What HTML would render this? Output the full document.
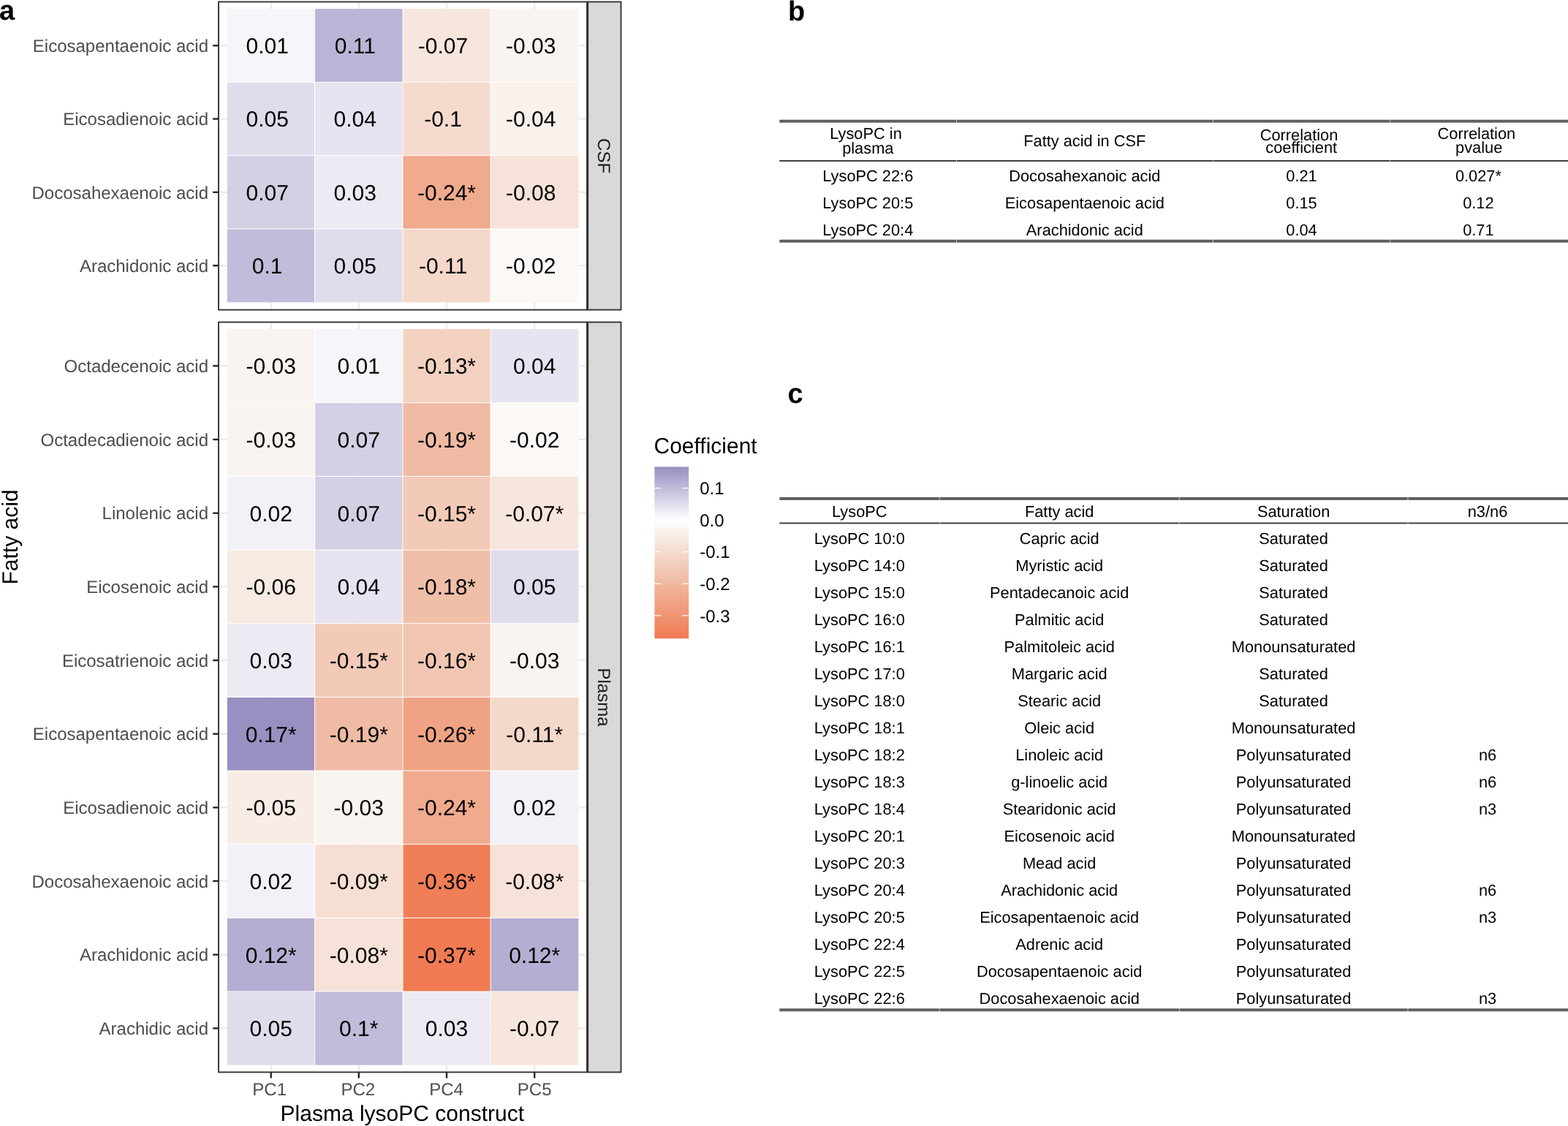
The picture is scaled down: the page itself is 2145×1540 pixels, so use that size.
<!DOCTYPE html>
<html><head><meta charset="utf-8"><title>Figure</title>
<style>html,body{margin:0;padding:0;background:#fff;width:2145px;height:1540px;overflow:hidden}svg{display:block}</style>
</head><body>
<svg width="2145" height="1540" viewBox="0 0 2145 1540" font-family="Liberation Sans, Arial, Helvetica, sans-serif" text-rendering="geometricPrecision">
<rect width="2145" height="1540" fill="#FFFFFF"/>
<g stroke="#EBEBEB" stroke-width="2.4"><line x1="370.7" y1="2.5" x2="370.7" y2="423.7" /><line x1="490.8" y1="2.5" x2="490.8" y2="423.7" /><line x1="611.0" y1="2.5" x2="611.0" y2="423.7" /><line x1="731.2" y1="2.5" x2="731.2" y2="423.7" /><line x1="299" y1="62.3" x2="803" y2="62.3" /><line x1="299" y1="162.6" x2="803" y2="162.6" /><line x1="299" y1="262.9" x2="803" y2="262.9" /><line x1="299" y1="363.2" x2="803" y2="363.2" /></g>
<g><rect x="310.8" y="12.10" width="119.80" height="100.32" fill="#F6F5F9"/><rect x="430.6" y="12.10" width="120.40" height="100.32" fill="#BCB4D6"/><rect x="551.0" y="12.10" width="120.10" height="100.32" fill="#F7E6DD"/><rect x="671.1" y="12.10" width="120.30" height="100.32" fill="#FAF4F0"/><rect x="310.8" y="112.42" width="119.80" height="100.32" fill="#E0DCEC"/><rect x="430.6" y="112.42" width="120.40" height="100.32" fill="#E7E3F0"/><rect x="551.0" y="112.42" width="120.10" height="100.32" fill="#F5DBCE"/><rect x="671.1" y="112.42" width="120.30" height="100.32" fill="#F9F1EB"/><rect x="310.8" y="212.75" width="119.80" height="100.32" fill="#D4CFE5"/><rect x="430.6" y="212.75" width="120.40" height="100.32" fill="#EDEAF4"/><rect x="551.0" y="212.75" width="120.10" height="100.32" fill="#F0AA8D"/><rect x="671.1" y="212.75" width="120.30" height="100.32" fill="#F6E2D8"/><rect x="310.8" y="313.07" width="119.80" height="100.32" fill="#C2BBDA"/><rect x="430.6" y="313.07" width="120.40" height="100.32" fill="#E0DCEC"/><rect x="551.0" y="313.07" width="120.10" height="100.32" fill="#F4D8CA"/><rect x="671.1" y="313.07" width="120.30" height="100.32" fill="#FBF8F5"/></g>
<g stroke="#FFFFFF" stroke-width="1"><line x1="430.6" y1="12.1" x2="430.6" y2="413.4"/><line x1="551.0" y1="12.1" x2="551.0" y2="413.4"/><line x1="671.1" y1="12.1" x2="671.1" y2="413.4"/><line x1="310.8" y1="112.42" x2="791.4" y2="112.42"/><line x1="310.8" y1="212.75" x2="791.4" y2="212.75"/><line x1="310.8" y1="313.07" x2="791.4" y2="313.07"/></g>
<g font-size="30" text-anchor="middle" fill="#000000"><text x="365.7" y="73.1">0.01</text><text x="485.8" y="73.1">0.11</text><text x="606.0" y="73.1">-0.07</text><text x="726.2" y="73.1">-0.03</text><text x="365.7" y="173.4">0.05</text><text x="485.8" y="173.4">0.04</text><text x="606.0" y="173.4">-0.1</text><text x="726.2" y="173.4">-0.04</text><text x="365.7" y="273.7">0.07</text><text x="485.8" y="273.7">0.03</text><text x="611.0" y="273.7">-0.24*</text><text x="726.2" y="273.7">-0.08</text><text x="365.7" y="374.0">0.1</text><text x="485.8" y="374.0">0.05</text><text x="606.0" y="374.0">-0.11</text><text x="726.2" y="374.0">-0.02</text></g>
<g font-size="24" text-anchor="end" fill="#4D4D4D"><text x="285" y="70.9">Eicosapentaenoic acid</text><text x="285" y="171.2">Eicosadienoic acid</text><text x="285" y="271.5">Docosahexaenoic acid</text><text x="285" y="371.8">Arachidonic acid</text></g>
<g stroke="#262626" stroke-width="2.4"><line x1="291.2" y1="62.3" x2="299" y2="62.3"/><line x1="291.2" y1="162.6" x2="299" y2="162.6"/><line x1="291.2" y1="262.9" x2="299" y2="262.9"/><line x1="291.2" y1="363.2" x2="299" y2="363.2"/></g>
<rect x="804.2" y="2.5" width="45.3" height="421.2" fill="#D9D9D9" stroke="#333333" stroke-width="1.9"/>
<rect x="299" y="2.5" width="504.0" height="421.2" fill="none" stroke="#333333" stroke-width="1.9"/>
<text transform="translate(818.2,213.1) rotate(90)" font-size="24" text-anchor="middle" fill="#1A1A1A">CSF</text>
<g stroke="#EBEBEB" stroke-width="2.4"><line x1="370.7" y1="440.6" x2="370.7" y2="1466.4" /><line x1="490.8" y1="440.6" x2="490.8" y2="1466.4" /><line x1="611.0" y1="440.6" x2="611.0" y2="1466.4" /><line x1="731.2" y1="440.6" x2="731.2" y2="1466.4" /><line x1="299" y1="500.4" x2="803" y2="500.4" /><line x1="299" y1="601.1" x2="803" y2="601.1" /><line x1="299" y1="701.8" x2="803" y2="701.8" /><line x1="299" y1="802.4" x2="803" y2="802.4" /><line x1="299" y1="903.1" x2="803" y2="903.1" /><line x1="299" y1="1003.7" x2="803" y2="1003.7" /><line x1="299" y1="1104.4" x2="803" y2="1104.4" /><line x1="299" y1="1205.0" x2="803" y2="1205.0" /><line x1="299" y1="1305.7" x2="803" y2="1305.7" /><line x1="299" y1="1406.4" x2="803" y2="1406.4" /></g>
<g><rect x="310.8" y="450.10" width="119.80" height="100.66" fill="#FAF4F0"/><rect x="430.6" y="450.10" width="120.40" height="100.66" fill="#F6F5F9"/><rect x="551.0" y="450.10" width="120.10" height="100.66" fill="#F3D1C0"/><rect x="671.1" y="450.10" width="120.30" height="100.66" fill="#E7E3F0"/><rect x="310.8" y="550.76" width="119.80" height="100.66" fill="#FAF4F0"/><rect x="430.6" y="550.76" width="120.40" height="100.66" fill="#D4CFE5"/><rect x="551.0" y="550.76" width="120.10" height="100.66" fill="#F0BBA4"/><rect x="671.1" y="550.76" width="120.30" height="100.66" fill="#FBF8F5"/><rect x="310.8" y="651.42" width="119.80" height="100.66" fill="#F3F1F8"/><rect x="430.6" y="651.42" width="120.40" height="100.66" fill="#D4CFE5"/><rect x="551.0" y="651.42" width="120.10" height="100.66" fill="#F2CAB7"/><rect x="671.1" y="651.42" width="120.30" height="100.66" fill="#F7E6DD"/><rect x="310.8" y="752.08" width="119.80" height="100.66" fill="#F7EAE2"/><rect x="430.6" y="752.08" width="120.40" height="100.66" fill="#E7E3F0"/><rect x="551.0" y="752.08" width="120.10" height="100.66" fill="#F0BFA8"/><rect x="671.1" y="752.08" width="120.30" height="100.66" fill="#E0DCEC"/><rect x="310.8" y="852.74" width="119.80" height="100.66" fill="#EDEAF4"/><rect x="430.6" y="852.74" width="120.40" height="100.66" fill="#F2CAB7"/><rect x="551.0" y="852.74" width="120.10" height="100.66" fill="#F1C6B2"/><rect x="671.1" y="852.74" width="120.30" height="100.66" fill="#FAF4F0"/><rect x="310.8" y="953.40" width="119.80" height="100.66" fill="#9A8FC1"/><rect x="430.6" y="953.40" width="120.40" height="100.66" fill="#F0BBA4"/><rect x="551.0" y="953.40" width="120.10" height="100.66" fill="#F0A384"/><rect x="671.1" y="953.40" width="120.30" height="100.66" fill="#F4D8CA"/><rect x="310.8" y="1054.06" width="119.80" height="100.66" fill="#F8EDE6"/><rect x="430.6" y="1054.06" width="120.40" height="100.66" fill="#FAF4F0"/><rect x="551.0" y="1054.06" width="120.10" height="100.66" fill="#F0AA8D"/><rect x="671.1" y="1054.06" width="120.30" height="100.66" fill="#F3F1F8"/><rect x="310.8" y="1154.72" width="119.80" height="100.66" fill="#F3F1F8"/><rect x="430.6" y="1154.72" width="120.40" height="100.66" fill="#F5DFD3"/><rect x="551.0" y="1154.72" width="120.10" height="100.66" fill="#F07E57"/><rect x="671.1" y="1154.72" width="120.30" height="100.66" fill="#F6E2D8"/><rect x="310.8" y="1255.38" width="119.80" height="100.66" fill="#B6ADD2"/><rect x="430.6" y="1255.38" width="120.40" height="100.66" fill="#F6E2D8"/><rect x="551.0" y="1255.38" width="120.10" height="100.66" fill="#F07B53"/><rect x="671.1" y="1255.38" width="120.30" height="100.66" fill="#B6ADD2"/><rect x="310.8" y="1356.04" width="119.80" height="100.66" fill="#E0DCEC"/><rect x="430.6" y="1356.04" width="120.40" height="100.66" fill="#C2BBDA"/><rect x="551.0" y="1356.04" width="120.10" height="100.66" fill="#EDEAF4"/><rect x="671.1" y="1356.04" width="120.30" height="100.66" fill="#F7E6DD"/></g>
<g stroke="#FFFFFF" stroke-width="1"><line x1="430.6" y1="450.1" x2="430.6" y2="1456.7"/><line x1="551.0" y1="450.1" x2="551.0" y2="1456.7"/><line x1="671.1" y1="450.1" x2="671.1" y2="1456.7"/><line x1="310.8" y1="550.76" x2="791.4" y2="550.76"/><line x1="310.8" y1="651.42" x2="791.4" y2="651.42"/><line x1="310.8" y1="752.08" x2="791.4" y2="752.08"/><line x1="310.8" y1="852.74" x2="791.4" y2="852.74"/><line x1="310.8" y1="953.40" x2="791.4" y2="953.40"/><line x1="310.8" y1="1054.06" x2="791.4" y2="1054.06"/><line x1="310.8" y1="1154.72" x2="791.4" y2="1154.72"/><line x1="310.8" y1="1255.38" x2="791.4" y2="1255.38"/><line x1="310.8" y1="1356.04" x2="791.4" y2="1356.04"/></g>
<g font-size="30" text-anchor="middle" fill="#000000"><text x="370.7" y="511.2">-0.03</text><text x="490.8" y="511.2">0.01</text><text x="611.0" y="511.2">-0.13*</text><text x="731.2" y="511.2">0.04</text><text x="370.7" y="611.9">-0.03</text><text x="490.8" y="611.9">0.07</text><text x="611.0" y="611.9">-0.19*</text><text x="731.2" y="611.9">-0.02</text><text x="370.7" y="712.5">0.02</text><text x="490.8" y="712.5">0.07</text><text x="611.0" y="712.5">-0.15*</text><text x="731.2" y="712.5">-0.07*</text><text x="370.7" y="813.2">-0.06</text><text x="490.8" y="813.2">0.04</text><text x="611.0" y="813.2">-0.18*</text><text x="731.2" y="813.2">0.05</text><text x="370.7" y="913.9">0.03</text><text x="490.8" y="913.9">-0.15*</text><text x="611.0" y="913.9">-0.16*</text><text x="731.2" y="913.9">-0.03</text><text x="370.7" y="1014.5">0.17*</text><text x="490.8" y="1014.5">-0.19*</text><text x="611.0" y="1014.5">-0.26*</text><text x="731.2" y="1014.5">-0.11*</text><text x="370.7" y="1115.2">-0.05</text><text x="490.8" y="1115.2">-0.03</text><text x="611.0" y="1115.2">-0.24*</text><text x="731.2" y="1115.2">0.02</text><text x="370.7" y="1215.8">0.02</text><text x="490.8" y="1215.8">-0.09*</text><text x="611.0" y="1215.8">-0.36*</text><text x="731.2" y="1215.8">-0.08*</text><text x="370.7" y="1316.5">0.12*</text><text x="490.8" y="1316.5">-0.08*</text><text x="611.0" y="1316.5">-0.37*</text><text x="731.2" y="1316.5">0.12*</text><text x="370.7" y="1417.2">0.05</text><text x="490.8" y="1417.2">0.1*</text><text x="611.0" y="1417.2">0.03</text><text x="731.2" y="1417.2">-0.07</text></g>
<g font-size="24" text-anchor="end" fill="#4D4D4D"><text x="285" y="509.0">Octadecenoic acid</text><text x="285" y="609.7">Octadecadienoic acid</text><text x="285" y="710.4">Linolenic acid</text><text x="285" y="811.0">Eicosenoic acid</text><text x="285" y="911.7">Eicosatrienoic acid</text><text x="285" y="1012.3">Eicosapentaenoic acid</text><text x="285" y="1113.0">Eicosadienoic acid</text><text x="285" y="1213.6">Docosahexaenoic acid</text><text x="285" y="1314.3">Arachidonic acid</text><text x="285" y="1415.0">Arachidic acid</text></g>
<g stroke="#262626" stroke-width="2.4"><line x1="291.2" y1="500.4" x2="299" y2="500.4"/><line x1="291.2" y1="601.1" x2="299" y2="601.1"/><line x1="291.2" y1="701.8" x2="299" y2="701.8"/><line x1="291.2" y1="802.4" x2="299" y2="802.4"/><line x1="291.2" y1="903.1" x2="299" y2="903.1"/><line x1="291.2" y1="1003.7" x2="299" y2="1003.7"/><line x1="291.2" y1="1104.4" x2="299" y2="1104.4"/><line x1="291.2" y1="1205.0" x2="299" y2="1205.0"/><line x1="291.2" y1="1305.7" x2="299" y2="1305.7"/><line x1="291.2" y1="1406.4" x2="299" y2="1406.4"/></g>
<rect x="804.2" y="440.6" width="45.3" height="1025.8" fill="#D9D9D9" stroke="#333333" stroke-width="1.9"/>
<rect x="299" y="440.6" width="504.0" height="1025.8" fill="none" stroke="#333333" stroke-width="1.9"/>
<text transform="translate(818.2,953.5) rotate(90)" font-size="24" text-anchor="middle" fill="#1A1A1A">Plasma</text>
<g stroke="#262626" stroke-width="2.4"><line x1="370.7" y1="1466.4" x2="370.7" y2="1474.6"/><line x1="490.8" y1="1466.4" x2="490.8" y2="1474.6"/><line x1="611.0" y1="1466.4" x2="611.0" y2="1474.6"/><line x1="731.2" y1="1466.4" x2="731.2" y2="1474.6"/></g>
<g font-size="24" text-anchor="middle" fill="#4D4D4D"><text x="368.7" y="1497.8">PC1</text><text x="489.8" y="1497.8">PC2</text><text x="610.5" y="1497.8">PC4</text><text x="731.2" y="1497.8">PC5</text></g>
<text x="550.3" y="1533.2" font-size="30" text-anchor="middle" fill="#000000">Plasma lysoPC construct</text>
<text transform="translate(24.3,734.5) rotate(-90)" font-size="30" text-anchor="middle" fill="#000000">Fatty acid</text>
<defs><linearGradient id="lg" x1="0" y1="0" x2="0" y2="1"><stop offset="0.0000" stop-color="#9A8FC1"/><stop offset="0.0250" stop-color="#A298C6"/><stop offset="0.0500" stop-color="#AAA0CB"/><stop offset="0.0750" stop-color="#B2A9D0"/><stop offset="0.1000" stop-color="#BAB2D5"/><stop offset="0.1250" stop-color="#C2BBDA"/><stop offset="0.1500" stop-color="#CBC4DF"/><stop offset="0.1750" stop-color="#D3CDE4"/><stop offset="0.2000" stop-color="#DBD6E9"/><stop offset="0.2250" stop-color="#E3DFEE"/><stop offset="0.2500" stop-color="#EBE9F3"/><stop offset="0.2750" stop-color="#F4F2F8"/><stop offset="0.3000" stop-color="#FCFBFD"/><stop offset="0.3250" stop-color="#FDFCFB"/><stop offset="0.3500" stop-color="#FBF7F4"/><stop offset="0.3750" stop-color="#F9F2EE"/><stop offset="0.4000" stop-color="#F8EEE7"/><stop offset="0.4250" stop-color="#F7E9E1"/><stop offset="0.4500" stop-color="#F6E4DA"/><stop offset="0.4750" stop-color="#F5DFD4"/><stop offset="0.5000" stop-color="#F5DACD"/><stop offset="0.5250" stop-color="#F4D6C7"/><stop offset="0.5500" stop-color="#F3D1C0"/><stop offset="0.5750" stop-color="#F2CCBA"/><stop offset="0.6000" stop-color="#F1C7B4"/><stop offset="0.6250" stop-color="#F1C3AD"/><stop offset="0.6500" stop-color="#F0BEA7"/><stop offset="0.6750" stop-color="#F0B9A1"/><stop offset="0.7000" stop-color="#F0B49A"/><stop offset="0.7250" stop-color="#F0AF94"/><stop offset="0.7500" stop-color="#F0AB8E"/><stop offset="0.7750" stop-color="#F0A688"/><stop offset="0.8000" stop-color="#F0A182"/><stop offset="0.8250" stop-color="#F09C7C"/><stop offset="0.8500" stop-color="#F09776"/><stop offset="0.8750" stop-color="#F09370"/><stop offset="0.9000" stop-color="#F08E6A"/><stop offset="0.9250" stop-color="#F08964"/><stop offset="0.9500" stop-color="#F0845E"/><stop offset="0.9750" stop-color="#F07F58"/><stop offset="1.0000" stop-color="#F07A52"/></linearGradient></defs>
<rect x="895.4" y="638.4" width="46.8" height="234.9" fill="url(#lg)"/>
<g stroke="#FFFFFF" stroke-width="1.2"><line x1="895.4" y1="667.6" x2="904.3" y2="667.6"/><line x1="933.3" y1="667.6" x2="942.2" y2="667.6"/><line x1="895.4" y1="711.2" x2="904.3" y2="711.2"/><line x1="933.3" y1="711.2" x2="942.2" y2="711.2"/><line x1="895.4" y1="754.8" x2="904.3" y2="754.8"/><line x1="933.3" y1="754.8" x2="942.2" y2="754.8"/><line x1="895.4" y1="798.3" x2="904.3" y2="798.3"/><line x1="933.3" y1="798.3" x2="942.2" y2="798.3"/><line x1="895.4" y1="841.9" x2="904.3" y2="841.9"/><line x1="933.3" y1="841.9" x2="942.2" y2="841.9"/></g>
<g font-size="24" fill="#000000"><text x="957.2" y="676.2">0.1</text><text x="957.2" y="719.8">0.0</text><text x="957.2" y="763.4">-0.1</text><text x="957.2" y="806.9">-0.2</text><text x="957.2" y="850.5">-0.3</text></g>
<text x="894.5" y="619.7" font-size="30" fill="#000000">Coefficient</text>
<g font-size="38" font-weight="bold" fill="#000000"><text x="-1" y="27.1">a</text><text x="1078" y="27.7">b</text><text x="1077.5" y="550.5">c</text></g>
<line x1="1066.3" y1="165.8" x2="1308.0" y2="165.8" stroke="#606060" stroke-width="4"/><line x1="1308.6" y1="165.8" x2="1659.0" y2="165.8" stroke="#606060" stroke-width="4"/><line x1="1659.6" y1="165.8" x2="1901.5" y2="165.8" stroke="#606060" stroke-width="4"/><line x1="1902.1" y1="165.8" x2="2145.0" y2="165.8" stroke="#606060" stroke-width="4"/>
<line x1="1066.3" y1="220.0" x2="1308.0" y2="220.0" stroke="#404040" stroke-width="2"/><line x1="1308.6" y1="220.0" x2="1659.0" y2="220.0" stroke="#404040" stroke-width="2"/><line x1="1659.6" y1="220.0" x2="1901.5" y2="220.0" stroke="#404040" stroke-width="2"/><line x1="1902.1" y1="220.0" x2="2145.0" y2="220.0" stroke="#404040" stroke-width="2"/>
<line x1="1066.3" y1="329.7" x2="1308.0" y2="329.7" stroke="#606060" stroke-width="4"/><line x1="1308.6" y1="329.7" x2="1659.0" y2="329.7" stroke="#606060" stroke-width="4"/><line x1="1659.6" y1="329.7" x2="1901.5" y2="329.7" stroke="#606060" stroke-width="4"/><line x1="1902.1" y1="329.7" x2="2145.0" y2="329.7" stroke="#606060" stroke-width="4"/>
<g font-size="21.8" text-anchor="middle" fill="#000000"><text x="1184.5" y="190.4">LysoPC in</text><text x="1187.3" y="210.3">plasma</text><text x="1483.8" y="200">Fatty acid in CSF</text><text x="1777.0" y="192.1">Correlation</text><text x="1780.2" y="208.6">coefficient</text><text x="2019.9" y="190.1">Correlation</text><text x="2023.2" y="208.6">pvalue</text><text x="1187.3" y="248.0">LysoPC 22:6</text><text x="1483.8" y="248.0">Docosahexanoic acid</text><text x="1780.5" y="248.0">0.21</text><text x="2022.4" y="248.0">0.027*</text><text x="1187.3" y="284.9">LysoPC 20:5</text><text x="1483.8" y="284.9">Eicosapentaenoic acid</text><text x="1780.5" y="284.9">0.15</text><text x="2022.4" y="284.9">0.12</text><text x="1187.3" y="321.8">LysoPC 20:4</text><text x="1483.8" y="321.8">Arachidonic acid</text><text x="1780.5" y="321.8">0.04</text><text x="2022.4" y="321.8">0.71</text></g>
<line x1="1066.3" y1="682.0" x2="1284.9" y2="682.0" stroke="#606060" stroke-width="4"/><line x1="1285.5" y1="682.0" x2="1612.9" y2="682.0" stroke="#606060" stroke-width="4"/><line x1="1613.5" y1="682.0" x2="1925.7" y2="682.0" stroke="#606060" stroke-width="4"/><line x1="1926.3" y1="682.0" x2="2145.0" y2="682.0" stroke="#606060" stroke-width="4"/>
<line x1="1066.3" y1="715.6" x2="1284.9" y2="715.6" stroke="#404040" stroke-width="2"/><line x1="1285.5" y1="715.6" x2="1612.9" y2="715.6" stroke="#404040" stroke-width="2"/><line x1="1613.5" y1="715.6" x2="1925.7" y2="715.6" stroke="#404040" stroke-width="2"/><line x1="1926.3" y1="715.6" x2="2145.0" y2="715.6" stroke="#404040" stroke-width="2"/>
<line x1="1066.3" y1="1381.2" x2="1284.9" y2="1381.2" stroke="#606060" stroke-width="4"/><line x1="1285.5" y1="1381.2" x2="1612.9" y2="1381.2" stroke="#606060" stroke-width="4"/><line x1="1613.5" y1="1381.2" x2="1925.7" y2="1381.2" stroke="#606060" stroke-width="4"/><line x1="1926.3" y1="1381.2" x2="2145.0" y2="1381.2" stroke="#606060" stroke-width="4"/>
<g font-size="21.8" text-anchor="middle" fill="#000000"><text x="1175.8" y="706.7">LysoPC</text><text x="1449.2" y="706.7">Fatty acid</text><text x="1769.6" y="706.7">Saturation</text><text x="2035.0" y="706.7">n3/n6</text><text x="1175.8" y="744.0">LysoPC 10:0</text><text x="1449.2" y="744.0">Capric acid</text><text x="1769.6" y="744.0">Saturated</text><text x="1175.8" y="781.0">LysoPC 14:0</text><text x="1449.2" y="781.0">Myristic acid</text><text x="1769.6" y="781.0">Saturated</text><text x="1175.8" y="818.0">LysoPC 15:0</text><text x="1449.2" y="818.0">Pentadecanoic acid</text><text x="1769.6" y="818.0">Saturated</text><text x="1175.8" y="854.9">LysoPC 16:0</text><text x="1449.2" y="854.9">Palmitic acid</text><text x="1769.6" y="854.9">Saturated</text><text x="1175.8" y="891.9">LysoPC 16:1</text><text x="1449.2" y="891.9">Palmitoleic acid</text><text x="1769.6" y="891.9">Monounsaturated</text><text x="1175.8" y="928.9">LysoPC 17:0</text><text x="1449.2" y="928.9">Margaric acid</text><text x="1769.6" y="928.9">Saturated</text><text x="1175.8" y="965.9">LysoPC 18:0</text><text x="1449.2" y="965.9">Stearic acid</text><text x="1769.6" y="965.9">Saturated</text><text x="1175.8" y="1002.9">LysoPC 18:1</text><text x="1449.2" y="1002.9">Oleic acid</text><text x="1769.6" y="1002.9">Monounsaturated</text><text x="1175.8" y="1039.8">LysoPC 18:2</text><text x="1449.2" y="1039.8">Linoleic acid</text><text x="1769.6" y="1039.8">Polyunsaturated</text><text x="2035.0" y="1039.8">n6</text><text x="1175.8" y="1076.8">LysoPC 18:3</text><text x="1449.2" y="1076.8">g-linoelic acid</text><text x="1769.6" y="1076.8">Polyunsaturated</text><text x="2035.0" y="1076.8">n6</text><text x="1175.8" y="1113.8">LysoPC 18:4</text><text x="1449.2" y="1113.8">Stearidonic acid</text><text x="1769.6" y="1113.8">Polyunsaturated</text><text x="2035.0" y="1113.8">n3</text><text x="1175.8" y="1150.8">LysoPC 20:1</text><text x="1449.2" y="1150.8">Eicosenoic acid</text><text x="1769.6" y="1150.8">Monounsaturated</text><text x="1175.8" y="1187.8">LysoPC 20:3</text><text x="1449.2" y="1187.8">Mead acid</text><text x="1769.6" y="1187.8">Polyunsaturated</text><text x="1175.8" y="1224.7">LysoPC 20:4</text><text x="1449.2" y="1224.7">Arachidonic acid</text><text x="1769.6" y="1224.7">Polyunsaturated</text><text x="2035.0" y="1224.7">n6</text><text x="1175.8" y="1261.7">LysoPC 20:5</text><text x="1449.2" y="1261.7">Eicosapentaenoic acid</text><text x="1769.6" y="1261.7">Polyunsaturated</text><text x="2035.0" y="1261.7">n3</text><text x="1175.8" y="1298.7">LysoPC 22:4</text><text x="1449.2" y="1298.7">Adrenic acid</text><text x="1769.6" y="1298.7">Polyunsaturated</text><text x="1175.8" y="1335.7">LysoPC 22:5</text><text x="1449.2" y="1335.7">Docosapentaenoic acid</text><text x="1769.6" y="1335.7">Polyunsaturated</text><text x="1175.8" y="1372.7">LysoPC 22:6</text><text x="1449.2" y="1372.7">Docosahexaenoic acid</text><text x="1769.6" y="1372.7">Polyunsaturated</text><text x="2035.0" y="1372.7">n3</text></g>
</svg>
</body></html>
